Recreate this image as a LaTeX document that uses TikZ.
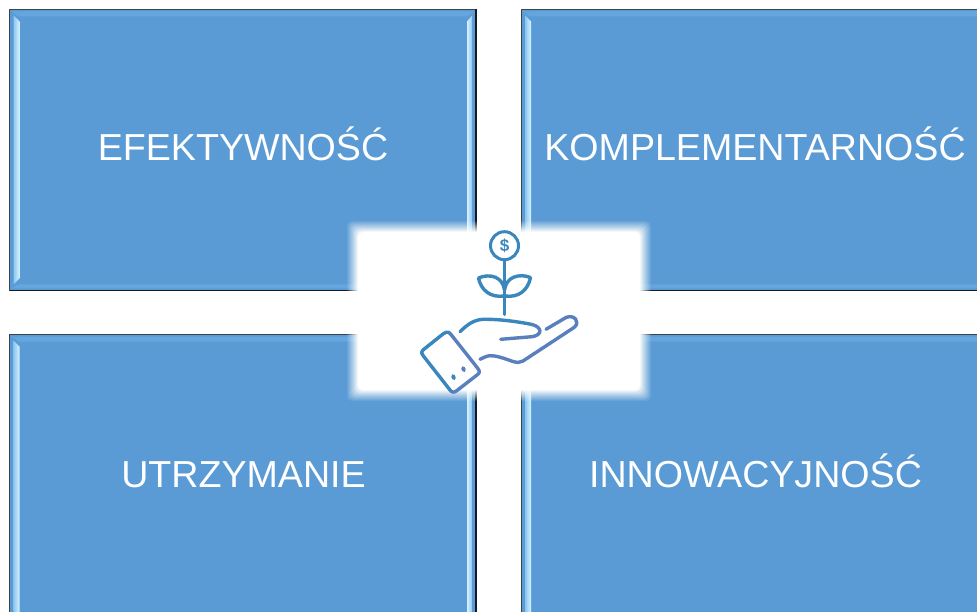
\documentclass[tikz,border=0pt]{standalone}
\usepackage{fontspec}
\setmainfont{Liberation Sans}
\definecolor{boxblue}{HTML}{5B9BD5}
\definecolor{bevel}{HTML}{D6F2FF}
\definecolor{bevelout}{HTML}{8CC6F0}
\definecolor{topbevel}{HTML}{66A6DE}
\definecolor{iconblue}{HTML}{3A87BE}
\definecolor{iconviolet}{HTML}{5A7FBE}
\definecolor{edge}{HTML}{3A444C}
\definecolor{edgedark}{HTML}{141A20}
\tikzset{
  tile/.style={fill=boxblue,draw=edge,line width=1pt},
  tiletext/.style={text=white,font=\fontsize{37.6}{40}\selectfont,inner sep=0pt,anchor=base},
  icon/.style={draw=iconblue,line width=3.4pt,line cap=round,line join=round},
  iconb/.style={draw=iconviolet,line width=3.4pt,line cap=round,line join=round},
}
\newcommand{\bevelbox}[4]{%
  \fill[topbevel] (#1+2,#2+2) -- (#3-2,#2+2) -- (#3-9,#2+7) -- (#1+9,#2+7) -- cycle;
  \fill[topbevel] (#1+2,#4-2) -- (#3-2,#4-2) -- (#3-9,#4-6) -- (#1+9,#4-6) -- cycle;
  \shade[left color=bevelout,right color=bevel] (#1+4,#2+6) -- (#1+10,#2+12) -- (#1+10,#4-12) -- (#1+4,#4-6) -- cycle;
  \shade[right color=bevelout,left color=bevel] (#3-4,#2+6) -- (#3-9,#2+12) -- (#3-9,#4-12) -- (#3-4,#4-6) -- cycle;
  \draw[edgedark,line width=1.3pt] (#1,#4) -- (#3,#4) -- (#3,#2);
}
\begin{document}
\begin{tikzpicture}[x=1pt,y=-1pt]
\useasboundingbox (0,0) rectangle (977,612);
\clip (0,0) rectangle (977,612);
\fill[white] (0,0) rectangle (977,612);
% tiles
\draw[tile] (9.5,9.5) rectangle (476,290.5);
\draw[tile] (521,9.5) rectangle (990,290.5);
\draw[tile] (9.5,334.5) rectangle (476,625);
\draw[tile] (521,334.5) rectangle (990,625);
\bevelbox{9.5}{9.5}{476}{290.5}
\bevelbox{521}{9.5}{990}{290.5}
\bevelbox{9.5}{334.5}{476}{625}
\bevelbox{521}{334.5}{990}{625}
% labels
\node[tiletext] (efekt) at (243,160.7) {EFEKTYWNOŚĆ};
\node[tiletext] (kompl) at (755,160.7) {KOMPLEMENTARNOŚĆ};
\node[tiletext] (utrzy) at (243.5,487.5) {UTRZYMANIE};
\node[tiletext] (innow) at (755.5,487.5) {INNOWACYJNOŚĆ};
% soft-edged white panel
\foreach \d in {11,10,...,0}{
  \pgfmathsetmacro{\op}{1/(\d+1)}
  \fill[white,fill opacity=\op,rounded corners=5pt]
    (358-\d,232-\d) rectangle (640+\d,390+\d);
}
% icon: coin
\node[icon,circle,minimum size=28pt,inner sep=0pt,line width=3pt] (coin) at (504.5,245.7) {};
\node[text=iconblue,font=\bfseries\fontsize{17}{17}\selectfont,inner sep=0pt] (dollar) at (504.5,245.7) {\$};
\coordinate (stemend) at (504.5,314.5);
\draw[icon] (coin.south) -- (stemend);
% leaves
\draw[icon] (504.5,296) .. controls (490,298) and (481,290) .. (478.5,278)
   .. controls (490,273) and (503,277) .. (504.5,290);
\draw[icon] (504.5,296) .. controls (519,298) and (528,290) .. (530.5,277.5)
   .. controls (519,273) and (506,277) .. (504.5,290);
% hand
\draw[icon] (460,331.7) .. controls (467,325) and (473,320) .. (483,319.3)
   .. controls (500,319) and (520,322) .. (532,324.5);
\draw[iconb] (532,324.5) .. controls (542,327) and (543,335) .. (532,336.7) -- (500.7,339.3);
\draw[iconb] (546,329.3) -- (566,317.5) .. controls (574,314) and (581,322) .. (574,327.5)
   -- (523,361) .. controls (520,363) and (517,362.5) .. (513,361.5)
   .. controls (503,358) and (496,355.5) .. (490,355.7)
   .. controls (486,356) and (483,358) .. (480,359.3);
% cuff
\draw[icon] (423,350) -- (443,334) .. controls (447,331) and (449,332) .. (451,334.5);
\draw[iconb] (451,334.5) -- (477.5,368) .. controls (480,371) and (480,373) .. (477,375) -- (457,390.5)
   .. controls (454,393) and (452,392.5) .. (450,390);
\draw[icon] (450,390) -- (423,355.5) .. controls (421,353) and (421,352) .. (423,350);
\draw[icon,line width=3.8pt] (453,376) -- (454,378.3);
\draw[iconb,line width=3.8pt] (463,368) -- (464,370.3);
\end{tikzpicture}
\end{document}
